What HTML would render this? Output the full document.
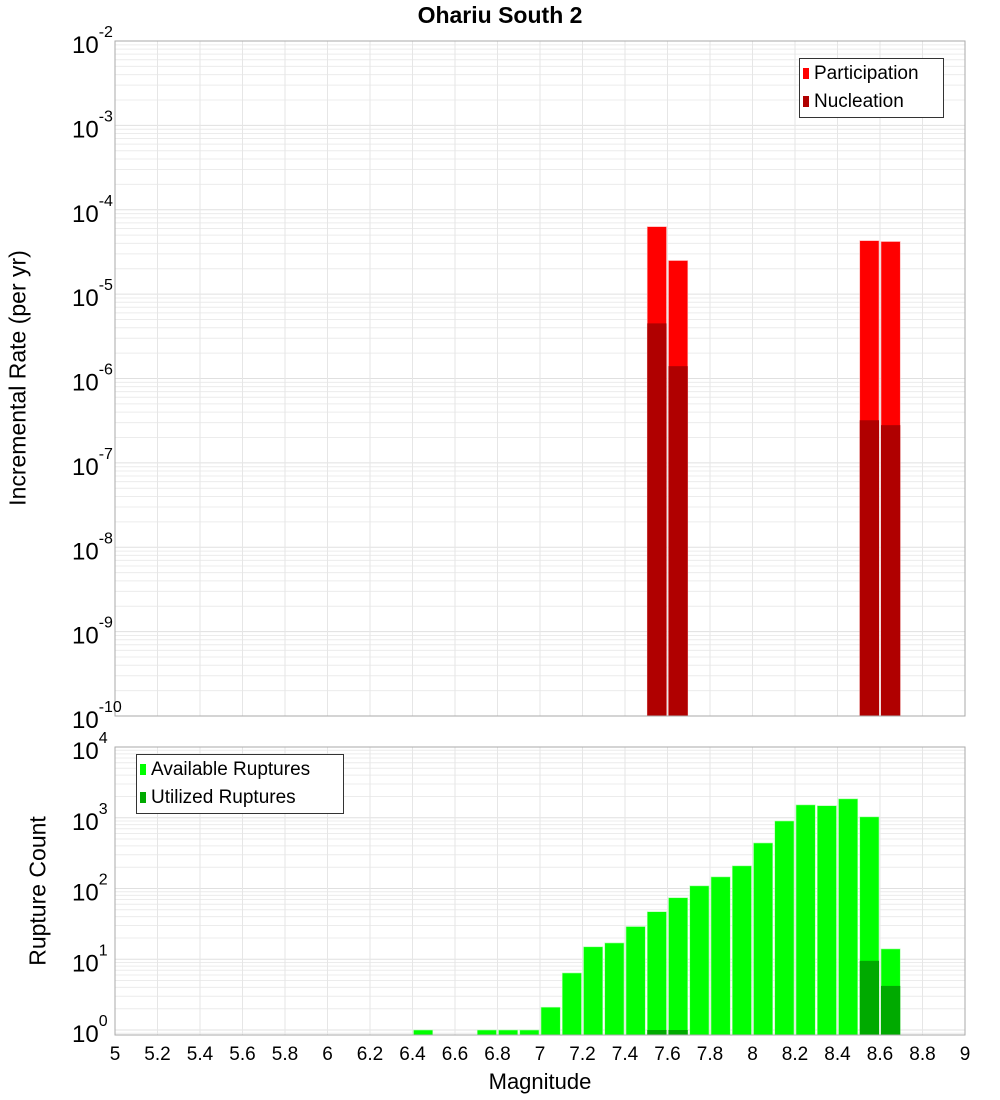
<!DOCTYPE html>
<html><head><meta charset="utf-8"><style>
body{margin:0;background:#fff;}
svg{display:block;font-family:"Liberation Sans","DejaVu Sans",sans-serif;}
</style></head><body>
<svg id="c" width="1000" height="1100" viewBox="0 0 1000 1100"></svg>
<script>
// ---- data ----
const rateMags = [7.55, 7.65, 8.55, 8.65];
const participation = [6.3e-5, 2.5e-5, 4.3e-5, 4.2e-5];
const nucleation = [4.5e-6, 1.4e-6, 3.2e-7, 2.8e-7];
const countMags = [6.45, 6.75, 6.85, 6.95, 7.05, 7.15, 7.25, 7.35, 7.45, 7.55, 7.65, 7.75, 7.85, 7.95, 8.05, 8.15, 8.25, 8.35, 8.45, 8.55, 8.65];
const available = [1, 1, 1, 1, 2.1, 6.4, 15, 17, 29, 47, 74, 109, 146, 209, 440, 900, 1520, 1480, 1850, 1030, 14];
const utilMags = [7.55, 7.65, 8.55, 8.65];
const utilized = [1, 1, 9.5, 4.2];
const xTicks = [5, 5.2, 5.4, 5.6, 5.8, 6, 6.2, 6.4, 6.6, 6.8, 7, 7.2, 7.4, 7.6, 7.8, 8, 8.2, 8.4, 8.6, 8.8, 9];
const topExps = [-2, -3, -4, -5, -6, -7, -8, -9, -10];
const botExps = [4, 3, 2, 1, 0];

const NS = "http://www.w3.org/2000/svg";
const svg = document.getElementById('c');
function mk(tag, attrs, parent) {
  const e = document.createElementNS(NS, tag);
  for (const k in attrs) e.setAttribute(k, attrs[k]);
  (parent || svg).appendChild(e);
  return e;
}
const L = 115, R = 965;
const x = m => L + (m - 5) / 4 * (R - L);
// top axis
const T1 = 41, B1 = 716;
const yTop = v => T1 + (-2 - Math.log10(v)) * (B1 - T1) / 8;
// bottom axis
const T2 = 747, B2 = 1035, D2 = 70.75, Z2 = 1030;
const yBot = v => Z2 - Math.log10(v) * D2;

function grid(top, bot, yf, lo, hi, name) {
  const g = mk('g', {});
  
  
  for (let e = lo; e < hi; e++) for (let k = 1; k < 10; k++) {
    const yy = yf(k * Math.pow(10, e));
    if (yy < top || yy > bot) continue;
    mk('line', {x1: L, x2: R, y1: yy, y2: yy, stroke: k === 1 ? '#e0e0e0' : '#ececec', 'stroke-width': 1}, g);
  }
  xTicks.forEach(t => mk('line', {x1: x(t), x2: x(t), y1: top, y2: bot, stroke: '#e6e6e6', 'stroke-width': 1}, g));
}
grid(T1, B1, yTop, -10, -2, 'top-grid');
grid(T2, B2, yBot, -1, 4, 'bottom-grid');

const bw = (R - L) / 40;
// top bars
participation.forEach((v, i) => {
  const r = mk('rect', {x: x(rateMags[i]) - bw / 2 + 1, y: yTop(v), width: bw - 2, height: B1 - yTop(v), fill: '#ff0000', stroke: '#ffb0b0', 'stroke-width': 0.6});
  
  
});
nucleation.forEach((v, i) => {
  const r = mk('rect', {x: x(rateMags[i]) - bw / 2 + 1, y: yTop(v), width: bw - 2, height: B1 - yTop(v), fill: '#b00000'});
  
  
});
// bottom bars
available.forEach((v, i) => {
  const r = mk('rect', {x: x(countMags[i]) - bw / 2 + 1, y: yBot(v), width: bw - 2, height: B2 - yBot(v), fill: '#00ff00', stroke: '#b0ffb0', 'stroke-width': 0.6});
  
  
});
utilized.forEach((v, i) => {
  const r = mk('rect', {x: x(utilMags[i]) - bw / 2 + 1, y: yBot(v), width: bw - 2, height: B2 - yBot(v), fill: '#00aa00'});
  
  
});
// frames
let f = mk('rect', {x: L, y: T1, width: R - L, height: B1 - T1, fill: 'none', stroke: '#aaaaaa'});


f = mk('rect', {x: L, y: T2, width: R - L, height: B2 - T2, fill: 'none', stroke: '#aaaaaa'});



function ylab(yy, e, name) {
  const t = mk('text', {x: 72, y: yy + 12, 'font-size': 24, fill: '#000'});
  
  
  t.textContent = '10';
  const s = mk('tspan', {dy: -16, 'font-size': 16}, t);
  s.textContent = String(e);
}
topExps.forEach(e => ylab(yTop(Math.pow(10, e)), e, 'top-y-tick-label'));
botExps.forEach(e => ylab(yBot(Math.pow(10, e)), e, 'bottom-y-tick-label'));
xTicks.forEach(t => {
  const tx = mk('text', {x: x(t), y: 1060, 'font-size': 19, 'text-anchor': 'middle', fill: '#000'});
  
  
  tx.textContent = String(t);
});
</script>
<svg width="0" height="0"></svg>
<div style="position:absolute;left:0;top:0;width:1000px;height:1100px;pointer-events:none;font-family:'Liberation Sans','DejaVu Sans',sans-serif;">
  <div style="position:absolute;left:0;width:1000px;top:2px;text-align:center;font-weight:bold;font-size:23px;">Ohariu South 2</div>
  <div style="position:absolute;left:18px;top:378px;width:0;height:0;"><div style="position:absolute;transform:translate(-50%,-50%) rotate(-90deg);white-space:nowrap;font-size:23px;">Incremental Rate (per yr)</div></div>
  <div style="position:absolute;left:38px;top:891px;width:0;height:0;"><div style="position:absolute;transform:translate(-50%,-50%) rotate(-90deg);white-space:nowrap;font-size:23px;">Rupture Count</div></div>
  <div style="position:absolute;left:0;width:1080px;top:1069px;text-align:center;font-size:22px;">Magnitude</div>
  <div style="position:absolute;left:799px;top:58px;width:143px;height:58px;border:1px solid #333;background:#fff;font-size:19px;">
    <div style="position:absolute;left:3px;top:4px;white-space:nowrap;"><span style="display:inline-block;width:6px;height:11px;background:#ff0000;margin-right:5px;"></span>Participation</div>
    <div style="position:absolute;left:3px;top:32px;white-space:nowrap;"><span style="display:inline-block;width:6px;height:11px;background:#b00000;margin-right:5px;"></span>Nucleation</div>
  </div>
  <div style="position:absolute;left:136px;top:754px;width:206px;height:58px;border:1px solid #333;background:#fff;font-size:19px;">
    <div style="position:absolute;left:3px;top:4px;white-space:nowrap;"><span style="display:inline-block;width:6px;height:11px;background:#00ff00;margin-right:5px;"></span>Available Ruptures</div>
    <div style="position:absolute;left:3px;top:32px;white-space:nowrap;"><span style="display:inline-block;width:6px;height:11px;background:#00aa00;margin-right:5px;"></span>Utilized Ruptures</div>
  </div>
</div>
</body></html>
